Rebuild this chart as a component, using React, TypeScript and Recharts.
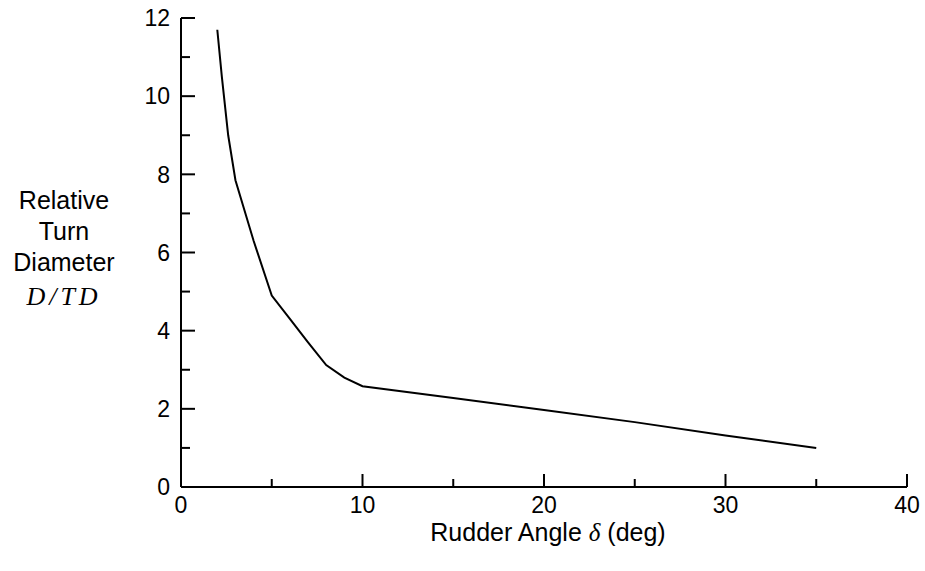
import React from 'react';
import { LineChart, Line, XAxis, YAxis, Label } from 'recharts';

const rudderAngle = [2, 2.25, 2.6, 3, 4, 5, 6, 7, 8, 9, 10, 15, 20, 25, 30, 35];
const turnDiameter = [11.7, 10.5, 9.0, 7.85, 6.3, 4.9, 4.3, 3.7, 3.12, 2.8, 2.58, 2.28, 1.97, 1.66, 1.32, 1.0];

const xTicks = [0, 5, 10, 15, 20, 25, 30, 35, 40];
const xLabeled = [0, 10, 20, 30, 40];
const yTicks = [0, 1, 2, 3, 4, 5, 6, 7, 8, 9, 10, 11, 12];
const yLabeled = [0, 2, 4, 6, 8, 10, 12];

const yLabelLines = ['Relative', 'Turn', 'Diameter'];

const data = rudderAngle.map((x, i) => ({ x, y: turnDiameter[i] }));

const FONT = '"Liberation Sans", Arial, Helvetica, sans-serif';
const SERIF = '"Liberation Serif", "DejaVu Serif", serif';

const XTick = (props: any) => {
  const { x, y, payload } = props;
  const v = payload.value;
  const major = xLabeled.includes(v);
  return (
    <g>
      <line x1={x} x2={x} y1={y} y2={y - (major ? 13 : 8)} stroke="#000" strokeWidth={2} />
      {major && (
        <text x={x} y={y + 26} textAnchor="middle" fontFamily={FONT} fontSize={23} fill="#000">
          {v}
        </text>
      )}
    </g>
  );
};

const YTick = (props: any) => {
  const { x, y, payload } = props;
  const v = payload.value;
  const major = yLabeled.includes(v);
  return (
    <g>
      <line x1={x} x2={x + (major ? 14 : 9)} y1={y} y2={y} stroke="#000" strokeWidth={2} />
      {major && (
        <text x={x - 11} y={y} dy="0.36em" textAnchor="end" fontFamily={FONT} fontSize={23} fill="#000">
          {v}
        </text>
      )}
    </g>
  );
};

const YLabelContent = () => (
  <g>
    {yLabelLines.map((t, i) => (
      <text key={t} x={64} y={209 + i * 31} textAnchor="middle" fontFamily={FONT} fontSize={25} fill="#000">
        {t}
      </text>
    ))}
    <text
      x={64}
      y={305}
      textAnchor="middle"
      fontFamily={SERIF}
      fontStyle="italic"
      fontSize={26}
      letterSpacing={4}
      fill="#000"
    >
      D/TD
    </text>
  </g>
);

const XLabelContent = () => (
  <text x={548} y={541} textAnchor="middle" fontFamily={FONT} fontSize={25} fill="#000">
    Rudder Angle{' '}
    <tspan fontFamily={SERIF} fontStyle="italic">
      δ
    </tspan>{' '}
    (deg)
  </text>
);

export default function App() {
  return (
    <div style={{ background: '#fff', position: 'absolute', left: 0, top: 0, width: 925, height: 571 }}>
      <LineChart width={925} height={571} data={data} margin={{ top: 18, right: 18, bottom: 0, left: 0 }}>
        <XAxis
          dataKey="x"
          type="number"
          domain={[0, 40]}
          ticks={xTicks}
          interval={0}
          tickSize={0}
          tickMargin={0}
          tickLine={false}
          tick={<XTick />}
          height={84}
          axisLine={{ stroke: '#000', strokeWidth: 2 }}
        >
          <Label content={<XLabelContent />} />
        </XAxis>
        <YAxis
          type="number"
          domain={[0, 12]}
          ticks={yTicks}
          interval={0}
          tickSize={0}
          tickMargin={0}
          tickLine={false}
          tick={<YTick />}
          width={181}
          axisLine={{ stroke: '#000', strokeWidth: 2 }}
        >
          <Label content={<YLabelContent />} />
        </YAxis>
        <Line
          dataKey="y"
          type="linear"
          stroke="#000"
          strokeWidth={2}
          dot={false}
          isAnimationActive={false}
        />
      </LineChart>
    </div>
  );
}
